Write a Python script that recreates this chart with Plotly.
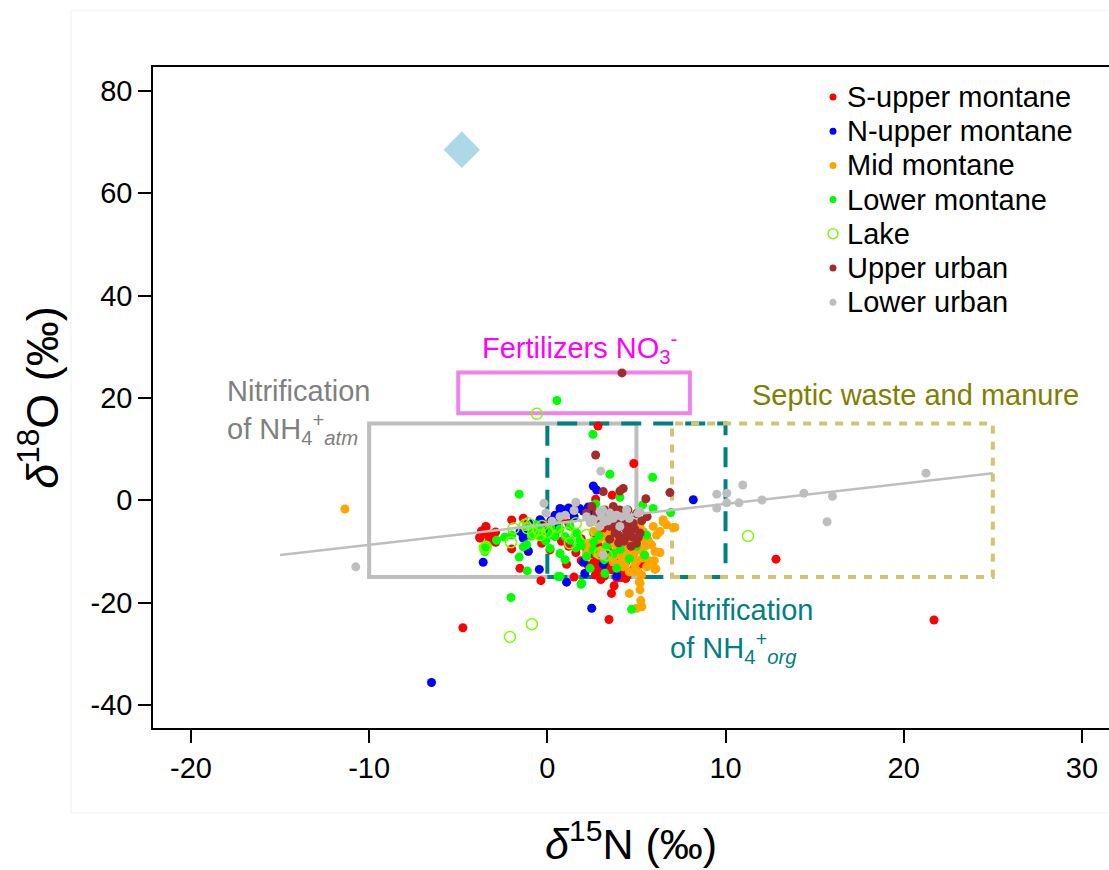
import plotly.graph_objects as go

# ---------------- data ----------------
series_names = ["S-upper montane", "N-upper montane", "Mid montane", "Lower montane",
                "Lake", "Upper urban", "Lower urban"]
series_colors = ["#FF0000", "#0000FF", "#FFA500", "#00FF00", "#7CFC00", "#A52A2A", "#BEBEBE"]

s_upper_x = [-4.74, 21.7, 12.83, 3.46, 2.84, 4.85, 3.64, 2.71, -2.0, -1.35, -3.44, -0.32, -3.6, -3.04,
             -3.78, -3.1, -2.9, -3.3, -2.0, -1.54, -0.36, -0.32, 0.15, 1.08, 2.58, 3.75, 4.17, 3.9,
             -1.07, 2.2, 2.5, 2.8, 3.0, 3.3, 2.6, 3.6, 2.9, 3.2, 2.7, 4.0, 4.4, 3.8, 1.9, 1.6, 2.3,
             3.4, 2.9, 4.8, 5.3, 0.8, 1.2, 0.4, 1.9, 2.6, 3.1, 4.2, 1.5, 3.6, -0.9, 0.9, 1.2, -3.7,
             -3.45, -3.8, -3.3, -2.9, 2.95, 4.4, 3.0]
s_upper_y = [-24.9, -23.4, -11.5, -23.3, 14.5, 7.2, 1.0, 0.2, -3.85, -3.5, -5.2, -4.2, -6.1, -7.4,
             -7.4, -6.6, -6.2, -8.3, -9.5, -13.3, -15.7, -8.4, -9.7, -12.5, -13.0, -16.7, -15.1, -15.2,
             -10.0, -9.5, -10.5, -11.2, -12.0, -12.6, -12.2, -13.6, -13.8, -14.8, -14.6, -13.0, -11.8,
             -11.0, -11.8, -10.2, -12.8, -9.8, -9.0, -10.5, -12.4, -8.0, -9.0, -6.8, -7.5, -6.4, -5.6,
             -14.2, -15.0, -18.2, -5.5, -3.5, -4.5, -6.0, -5.1, -7.2, -7.0, -8.2, -13.0, -15.3, -15.5]

n_upper_x = [-6.5, 8.19, 2.49, 2.58, 2.77, 0.71, 0.9, 2.02, 1.46, 1.2, 1.8, 0.43, -1.35, -1.07, -3.6,
             -0.45, 1.08, 2.02, 4.86, 3.14, -0.41, -1.53, -1.35, -1.2, 0.2, 0.6, -0.6, -0.9, 1.5, 2.5,
             3.2, 3.9, 2.1, 0.5, -0.2, 1.0, 2.3, 4.4]
n_upper_y = [-35.6, 0.1, -21.1, 2.8, 2.0, -1.6, -1.9, -2.1, -2.2, -1.5, -1.6, -2.9, -7.1, -9.9, -12.1,
             -13.5, -16.0, -12.1, -13.3, -12.5, -3.8, -6.1, -7.4, -6.6, -4.0, -5.0, -5.4, -4.6, -3.2,
             -2.4, -11.5, -14.8, -14.3, -3.4, -5.9, -2.6, -1.3, -12.0]

mid_x = [-11.36, 0.24, 2.58, 2.3, 2.3, 2.2, 3.14, 3.7, 3.89, 4.17, 4.36, 4.82, 5.0, 5.2, 5.57, 5.94,
         6.32, 6.5, 6.69, 7.16, 6.13, 5.85, 6.04, 6.32, 6.0, 6.09, 5.29, 5.16, 5.2, 4.6, 5.25, 5.0,
         4.82, 2.77, 3.6, 5.2, 5.38, 5.66, 3.33, 3.7, 4.26, 5.57, 5.33, 5.5, 4.5, 4.0, 4.6, 2.9, 3.5,
         4.9, 4.6, 5.7, 6.5, 7.07, 5.9, 6.04, 5.2, 5.3, 3.0, 4.4, 4.9, 4.3, 5.1, 4.7, 5.4, 3.8, 4.1]
mid_y = [-1.7, -6.25, -6.1, -8.4, -9.4, -10.4, -7.1, -8.4, -9.7, -11.0, -12.6, -10.4, -12.0, -9.7,
         -7.1, -5.1, -6.1, -3.8, -4.8, -5.3, -6.8, -8.7, -10.0, -10.2, -11.8, -13.4, -14.6, -15.9,
         -17.5, -18.2, -19.6, -21.1, -13.9, -10.4, -11.0, -5.1, -6.1, -7.8, -8.7, -12.0, -13.0, -13.0,
         -11.3, -9.0, -9.0, -7.5, -7.8, -7.6, -6.6, -12.8, -14.0, -11.8, -4.2, -5.3, -12.3, -13.5,
         -16.2, -20.8, -9.8, -10.5, -8.2, -12.0, -14.0, -11.0, -8.0, -10.8, -12.4]

lower_x = [0.54, -2.04, 4.73, -1.58, 2.56, 3.51, 5.91, 4.07, 2.71, 5.35, 5.94, 6.92, 2.67, -1.16, -0.41,
           0.15, 0.43, 1.0, 1.64, 1.83, 2.2, 3.33, 2.58, 3.7, 3.23, 1.93, 0.71, -1.13, -1.58, -2.85,
           -3.4, -3.5, 5.57, 5.46, 3.89, -1.35, -0.8, -0.6, 1.27, 1.3, 0.15, 0.71, 0.61, 1.89, -1.16,
           -0.3, 0.7, -2.0, -2.4, -0.1, 1.9, 2.6, 4.1, 4.6, 5.0, 3.2, 2.4, -3.6, 0.2, 1.6, 2.9, 1.0, -0.9]
lower_y = [19.5, -19.0, -21.3, 1.2, 12.9, 5.1, 4.5, 0.6, -0.7, -0.9, -1.6, -2.4, -0.9, -5.1, -7.1,
           -6.8, -7.1, -7.1, -6.4, -7.8, -11.0, -9.1, -9.7, -10.4, -14.3, -16.2, -14.9, -13.8, -11.1,
           -7.8, -8.8, -10.0, -6.8, -10.7, -13.3, -9.1, -6.2, -4.8, -5.1, -7.8, -9.4, -10.4, -14.9,
           -16.4, -8.7, -6.0, -5.6, -6.8, -7.2, -7.9, -8.9, -8.1, -9.6, -11.4, -9.0, -11.6, -13.3,
           -9.2, -5.2, -9.3, -6.9, -11.6, -7.0]

lake_x = [-0.59, -0.87, -2.1, 11.26, -1.9, -2.04, -3.45, -3.5, -1.07, -1.25, -0.79, -0.41, 0.52, 1.27,
          1.08, 2.2, 2.95, 3.33, -1.1, -0.5, 0.0, 1.6, -0.3, 2.7]
lake_y = [16.9, -24.2, -26.7, -7.0, -5.5, -8.2, -9.1, -9.4, -4.5, -4.8, -6.4, -6.8, -5.1, -8.4,
          -6.4, -6.8, -10.4, -10.7, -5.5, -5.8, -6.2, -4.5, -5.0, -3.8]

up_urban_x = [4.19, 2.71, 3.14, 4.26, 4.07, 5.53, 6.88, 3.7, 4.07, 4.45, 4.54, 4.17, 4.82, 4.45, 5.2,
              5.0, 4.73, 2.77, 2.2, 2.49, 3.33, 3.89, 3.51, 3.8, 4.36, 3.22, 3.89, 4.52, 5.0, 3.5,
              4.0, 4.7, 5.3, 3.0, 4.2, 3.6, 4.9, 5.6, 4.0, 4.4, 4.6, 5.1, 3.7, 4.3]
up_urban_y = [24.9, 8.85, 1.7, 2.3, 1.8, 0.3, 1.5, -1.2, -1.9, -2.5, -3.8, -5.1, -4.5, -6.1, -6.4,
              -8.4, -7.1, -2.5, -2.5, -1.2, -3.2, -3.8, -5.1, -6.4, -7.4, -1.9, -1.9, -1.9, -2.6,
              -7.6, -8.3, -9.0, -4.0, -4.4, -3.0, -2.6, -5.6, -3.2, -6.8, -4.3, -5.6, -7.3, -4.8, -8.0]

lo_urban_x = [-10.75, 3.0, -0.19, -0.08, 0.26, 1.6, 0.71, 1.0, 2.2, 2.58, 3.1, 3.51, 3.89, 4.45, 5.2,
              3.7, 3.18, 4.07, 2.95, 3.14, 2.95, 3.05, 4.17, 5.09, 9.51, 9.51, 10.07, 10.97, 10.07,
              10.75, 12.04, 14.4, 16.0, 15.7, 21.25, 1.5, 2.4, 4.6, 3.4]
lo_urban_y = [-13.0, 5.7, -0.6, -2.5, -4.1, -0.4, -3.2, -2.9, -3.2, -3.8, -1.9, -2.5, -2.9, -1.9, -2.2,
              -3.5, -4.2, -5.1, -5.1, -10.7, -2.2, -3.2, -3.2, -2.5, 1.2, -1.5, 1.4, 3.0, -0.5,
              -0.5, 0.06, 1.4, 0.8, -4.2, 5.3, -2.0, -4.4, -3.5, -4.0]

atm_x = [-4.8]
atm_y = [68.5]

# source boxes: nitrification atm, nitrification org, septic, fertilizer
box_x0 = [-10, 0, 7, -5]
box_x1 = [5, 10, 25, 8]
box_y0 = [-15, -15, -15, 17]
box_y1 = [15, 15, 15, 25]

reg_x = [-15, 25]
reg_slope = 0.4
reg_intercept = -4.7

x_ticks = [-20, -10, 0, 10, 20, 30]
y_ticks = [-40, -20, 0, 20, 40, 60, 80]

# ---------------- figure ----------------
FONT = "Liberation Sans, Arial, Helvetica, sans-serif"
fig = go.Figure()

all_x = [s_upper_x, n_upper_x, mid_x, lower_x, lake_x, up_urban_x, lo_urban_x]
all_y = [s_upper_y, n_upper_y, mid_y, lower_y, lake_y, up_urban_y, lo_urban_y]

fig.add_trace(go.Scatter(x=atm_x, y=atm_y, mode="markers", showlegend=False,
                         marker=dict(symbol="diamond", size=28, color="#ADD8E6")))

for name, color, xs, ys in zip(series_names, series_colors, all_x, all_y):
    if name == "Lake":
        marker = dict(symbol="circle-open", size=11, color=color, line=dict(width=1.5, color=color))
    else:
        marker = dict(symbol="circle", size=9, color=color, line=dict(width=0))
    fig.add_trace(go.Scatter(x=xs, y=ys, mode="markers", name=name, marker=marker, showlegend=False))

fig.add_trace(go.Scatter(x=reg_x, y=[reg_intercept + reg_slope * v for v in reg_x], mode="lines",
                         line=dict(color="#BEBEBE", width=2.5), showlegend=False))

box_styles = [
    dict(color="#BEBEBE", width=4, dash="solid"),
    dict(color="#008080", width=4, dash="20px,12px"),
    dict(color="#CDC673", width=4, dash="8px,8px"),
    dict(color="#EE82EE", width=4, dash="solid"),
]
shapes = []
for x0, x1, y0, y1, st in zip(box_x0, box_x1, box_y0, box_y1, box_styles):
    shapes.append(dict(type="rect", xref="x", yref="y", x0=x0, x1=x1, y0=y0, y1=y1,
                       line=st, fillcolor="rgba(0,0,0,0)", layer="below"))

# faint outer panel border
shapes.append(dict(type="rect", xref="paper", yref="paper", x0=-0.0858, x1=1.02, y0=-0.1286, y1=1.086,
                   line=dict(color="#F0F0F0", width=1), layer="below"))

# manual legend (matches the compact R legend spacing)
PLOT_TOP, PLOT_H, PLOT_L, PLOT_W = 67, 661, 153, 956
annotations = []
for i, (name, color) in enumerate(zip(series_names, series_colors)):
    ypx = 97 + i * 34.2
    yp = (PLOT_TOP + PLOT_H - ypx) / PLOT_H
    xt = (845 - PLOT_L) / PLOT_W
    xd = (833 - PLOT_L) / PLOT_W
    annotations.append(dict(xref="paper", yref="paper", x=xt, y=yp, text=name, showarrow=False,
                            xanchor="left", yanchor="middle",
                            font=dict(size=29, color="black", family=FONT)))
    if name == "Lake":
        shapes.append(dict(type="circle", xref="paper", yref="paper", xsizemode="pixel",
                           ysizemode="pixel", xanchor=xd, yanchor=yp, x0=-5, x1=5, y0=-5, y1=5,
                           line=dict(color=color, width=1.5), fillcolor="rgba(0,0,0,0)"))
    else:
        shapes.append(dict(type="circle", xref="paper", yref="paper", xsizemode="pixel",
                           ysizemode="pixel", xanchor=xd, yanchor=yp, x0=-3.5, x1=3.5, y0=-3.5, y1=3.5,
                           line=dict(color=color, width=0), fillcolor=color))

annotations += [
    dict(x=-18.09, y=17.3, xref="x", yref="y", xanchor="left", yanchor="middle", align="left",
         text="Nitrification<br>of NH<sub>4</sub><sup>+</sup><sub><i>atm</i></sub>",
         showarrow=False, font=dict(size=29, color="#808080", family=FONT)),
    dict(x=1.83, y=29.8, xref="x", yref="y", xanchor="center", yanchor="middle",
         text="Fertilizers NO<sub>3</sub><sup>-</sup>", showarrow=False,
         font=dict(size=29, color="#FF00FF", family=FONT)),
    dict(x=11.37, y=20.6, xref="x", yref="y", xanchor="left", yanchor="middle",
         text="Septic waste and manure", showarrow=False,
         font=dict(size=29, color="#808000", family=FONT)),
    dict(x=6.77, y=-25.5, xref="x", yref="y", xanchor="left", yanchor="middle", align="left",
         text="Nitrification<br>of NH<sub>4</sub><sup>+</sup><sub><i>org</i></sub>",
         showarrow=False, font=dict(size=29, color="#008080", family=FONT)),
]

fig.update_layout(
    width=1109, height=870,
    margin=dict(l=153, r=0, t=67, b=142),
    paper_bgcolor="white", plot_bgcolor="white",
    font=dict(family=FONT, color="black"),
    shapes=shapes, annotations=annotations, showlegend=False,
    xaxis=dict(range=[-22.13, 31.52], tickvals=x_ticks, ticktext=[str(v) for v in x_ticks],
               ticks="outside", ticklen=13, tickwidth=1.5,
               tickcolor="black", showline=True, linewidth=1.5, linecolor="black", mirror=True,
               showgrid=False, zeroline=False, tickfont=dict(size=29, family=FONT),
               title=dict(text="<i>δ</i><sup>15</sup>N (‰)", font=dict(size=43, family=FONT),
                          standoff=46)),
    yaxis=dict(range=[-44.5, 84.68], tickvals=y_ticks, ticktext=[str(v) for v in y_ticks],
               ticks="outside", ticklen=13, tickwidth=1.5,
               tickcolor="black", showline=True, linewidth=1.5, linecolor="black", mirror=False,
               showgrid=False, zeroline=False, tickfont=dict(size=29, family=FONT),
               title=dict(text="<i>δ</i><sup>18</sup>O (‰)", font=dict(size=45, family=FONT),
                          standoff=18)),
)

fig.write_html("out.html")
